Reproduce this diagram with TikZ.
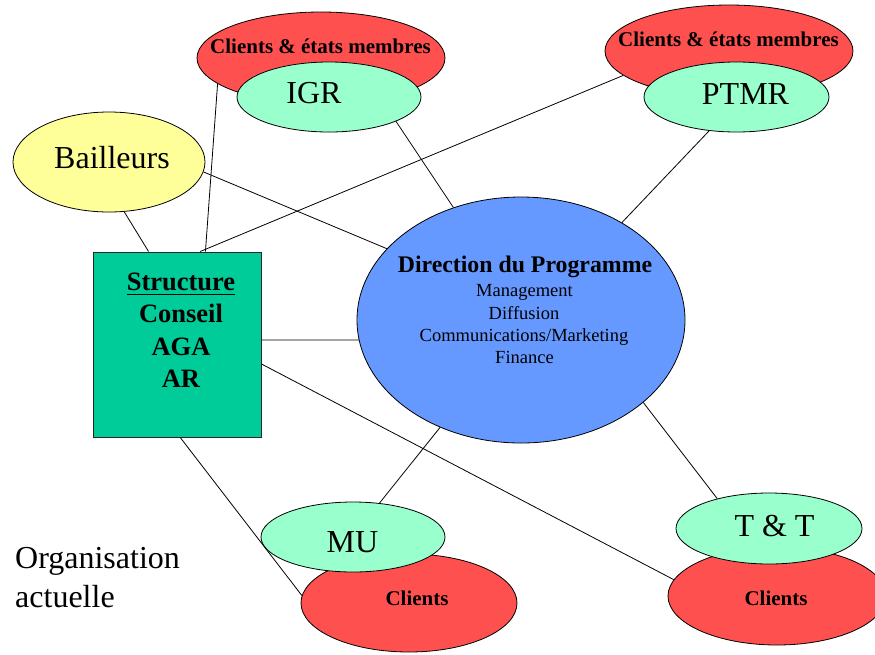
\documentclass[tikz,border=0pt]{standalone}
\usepackage{fontspec}
\setmainfont{Liberation Serif}
\usetikzlibrary{shapes.geometric}

\definecolor{clientred}{HTML}{FF5050}
\definecolor{unitgreen}{HTML}{99FFCC}
\definecolor{donoryellow}{HTML}{FFFF99}
\definecolor{progblue}{HTML}{6699FF}
\definecolor{structteal}{HTML}{00CC99}

\tikzset{
  blob/.style={ellipse, draw=black, line width=0.8pt, inner sep=0pt},
  client/.style={blob, fill=clientred},
  unit/.style={blob, fill=unitgreen},
  link/.style={draw=black, line width=0.8pt},
  txt/.style={anchor=base, inner sep=0pt},
  big/.style={txt, font=\fontsize{32}{38}\selectfont},
  boldlbl/.style={txt, font=\fontsize{21}{25}\selectfont\bfseries},
  structlbl/.style={txt, font=\fontsize{26.5}{32}\selectfont\bfseries},
  sublbl/.style={txt, font=\fontsize{18.5}{22}\selectfont},
}

\begin{document}
\begin{tikzpicture}[x=1pt, y=-1pt]
\useasboundingbox (0,0) rectangle (875,654);
\clip (0,0) rectangle (875,654);

% client groups behind the units
\node[client, minimum width=248pt, minimum height=92pt] (redtl) at (321,58) {};
\node[client, minimum width=248pt, minimum height=92pt] (redtr) at (729,51) {};
\node[client, minimum width=216pt, minimum height=98pt] (mucl) at (409,603) {};
\node[client, minimum width=218pt, minimum height=98pt] (ttcl) at (777,596) {};

% units
\node[unit, minimum width=184pt, minimum height=70pt] (igr) at (329,97) {};
\node[unit, minimum width=185pt, minimum height=70pt] (ptmr) at (736.5,97) {};
\node[unit, minimum width=184pt, minimum height=70pt] (mu) at (353,537) {};
\node[unit, minimum width=186pt, minimum height=71pt] (tt) at (769,528.5) {};

% donors, structure and programme direction
\node[blob, fill=donoryellow, minimum width=192pt, minimum height=100pt] (bail) at (109,162) {};
\node[draw=black!85, line width=1pt, fill=structteal, minimum width=168pt,
      minimum height=185pt, inner sep=0pt] (struct) at (177,344.5) {};
\node[blob, fill=progblue, minimum width=328pt, minimum height=246pt] (dir) at (521,320) {};

% connectors
\path[link] (bail.-73) -- (struct.107.4);
\path[link] (redtl.194.6) -- (struct.73.2);
\path[link] (struct.76) -- (redtr.193.8);
\path[link] (bail.-6) -- (dir.152.4);
\path[link] (igr.-20) -- (dir.121.8);
\path[link] (ptmr.-129.5) -- (dir.44.7);
\path[link] (struct.3) -- (dir.187.3);
\path[link] (struct.-13.6) -- (ttcl.171);
\path[link] (dir.-127.9) -- (mu.52);
\path[link] (dir.-34.4) -- (tt.150.9);
\path[link] (struct.-88) -- (mucl.176.3);

% labels
\node[boldlbl] (tredtl) at (320.5,53) {Clients \& états membres};
\node[boldlbl] (tredtr) at (728.5,46) {Clients \& états membres};
\node[big] (tigr) at (314,103) {IGR};
\node[big] (tptmr) at (745.5,104) {PTMR};
\node[big] (tbail) at (112,168) {Bailleurs};
\node[big] (tmu) at (352.5,552) {MU};
\node[big] (ttt) at (774.5,536) {T \& T};
\node[boldlbl] (tmucl) at (417,605.5) {Clients};
\node[boldlbl] (tttcl) at (776,605) {Clients};

\node[structlbl] (ts1) at (181,290) {Structure};
\draw[line width=1.8pt] ([yshift=-4.5pt]ts1.base west) -- ([yshift=-4.5pt]ts1.base east);
\node[structlbl] (ts2) at (181,322.5) {Conseil};
\node[structlbl] (ts3) at (181,355) {AGA};
\node[structlbl] (ts4) at (181,387) {AR};

\node[txt, font=\fontsize{23.8}{28}\selectfont\bfseries] (tdir) at (525,272) {Direction du Programme};
\node[sublbl] (td1) at (524.5,296) {Management};
\node[sublbl] (td2) at (524,319) {Diffusion};
\node[sublbl] (td3) at (524,341.5) {Communications/Marketing};
\node[sublbl] (td4) at (524.5,363) {Finance};

\node[big, anchor=base west] (torg1) at (15,568) {Organisation};
\node[big, anchor=base west] (torg2) at (15,607) {actuelle};
\end{tikzpicture}
\end{document}
